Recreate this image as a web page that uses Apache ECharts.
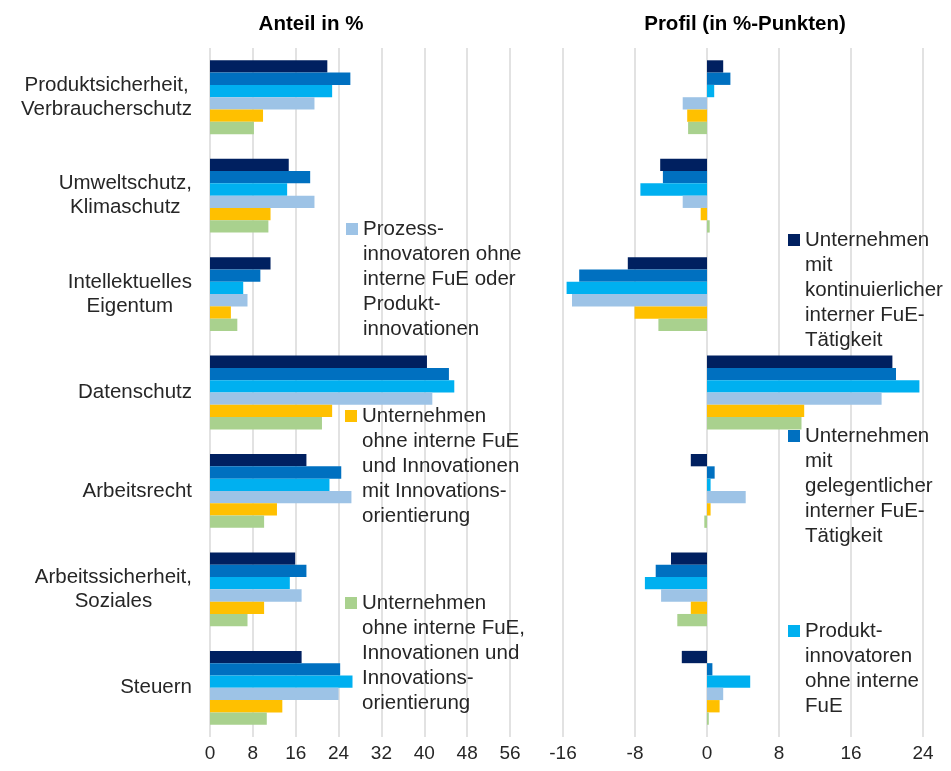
<!DOCTYPE html>
<html>
<head>
<meta charset="utf-8">
<script src="https://cdn.jsdelivr.net/npm/echarts@6/dist/echarts.min.js"></script>
<style>
  html, body { margin: 0; padding: 0; background: #fff; }
  #chart { width: 951px; height: 771px; }
</style>
</head>
<body>
<div id="chart"></div>
<script>
// Kategorien (von oben nach unten)
const categories = ['Produktsicherheit,\nVerbraucherschutz', 'Umweltschutz,\nKlimaschutz', 'Intellektuelles\nEigentum',
  'Datenschutz', 'Arbeitsrecht', 'Arbeitssicherheit,\nSoziales', 'Steuern'];

const seriesNames = [
  'Unternehmen\nmit\nkontinuierlicher\ninterner FuE-\nTätigkeit',
  'Unternehmen\nmit\ngelegentlicher\ninterner FuE-\nTätigkeit',
  'Produkt-\ninnovatoren\nohne interne\nFuE',
  'Prozess-\ninnovatoren ohne\ninterne FuE oder\nProdukt-\ninnovationen',
  'Unternehmen\nohne interne FuE\nund Innovationen\nmit Innovations-\norientierung',
  'Unternehmen\nohne interne FuE,\nInnovationen und\nInnovations-\norientierung'
];
const colors = ['#002060', '#0070C0', '#00B0F0', '#9DC3E6', '#FFC000', '#A9D18E'];

// Anteil in %
const anteilKontinuierlich = [21.9, 14.7, 11.3, 40.5, 18.0, 15.9, 17.1];
const anteilGelegentlich   = [26.2, 18.7, 9.4, 44.6, 24.5, 18.0, 24.3];
const anteilProdukt        = [22.8, 14.4, 6.2, 45.6, 22.3, 14.9, 26.6];
const anteilProzess        = [19.5, 19.5, 7.0, 41.5, 26.4, 17.1, 24.0];
const anteilOrientierung   = [9.9, 11.3, 3.9, 22.8, 12.5, 10.1, 13.5];
const anteilOhne           = [8.2, 10.9, 5.1, 20.9, 10.1, 7.0, 10.6];

// Profil (in %-Punkten)
const profilKontinuierlich = [1.8, -5.2, -8.8, 20.6, -1.8, -4.0, -2.8];
const profilGelegentlich   = [2.6, -4.9, -14.2, 21.0, 0.85, -5.7, 0.6];
const profilProdukt        = [0.8, -7.4, -15.6, 23.6, 0.4, -6.9, 4.8];
const profilProzess        = [-2.7, -2.7, -15.0, 19.4, 4.3, -5.1, 1.8];
const profilOrientierung   = [-2.2, -0.7, -8.05, 10.8, 0.4, -1.8, 1.4];
const profilOhne           = [-2.1, 0.3, -5.4, 10.5, -0.3, -3.3, 0.2];

const anteil = [anteilKontinuierlich, anteilGelegentlich, anteilProdukt, anteilProzess, anteilOrientierung, anteilOhne];
const profil = [profilKontinuierlich, profilGelegentlich, profilProdukt, profilProzess, profilOrientierung, profilOhne];

const font = 'Liberation Sans, Arial, sans-serif';
const textColor = '#262626';
const lh = 25;

// Legende: je Reihe ein eigener Block, Symbol auf Höhe der ersten Zeile
// (leere Zeilen davor, damit die erste Textzeile mittig zum Symbol steht)
const legendPos = [
  { left: 788, y: 240 },
  { left: 788, y: 436 },
  { left: 788, y: 631 },
  { left: 346, y: 229 },
  { left: 345, y: 416 },
  { left: 345, y: 603 }
];
const legends = seriesNames.map((name, i) => {
  const n = name.split('\n').length;
  return {
    data: [name],
    left: legendPos[i].left,
    top: legendPos[i].y - (2 * n - 1) * lh / 2,
    orient: 'vertical',
    padding: 0,
    selectedMode: false,
    itemWidth: 12,
    itemHeight: 12,
    icon: 'rect',
    formatter: s => '\n'.repeat(n - 1) + s,
    textStyle: {
      fontFamily: font,
      fontSize: 20.5,
      color: textColor,
      lineHeight: lh
    }
  };
});

const series = [];
anteil.forEach((d, i) => {
  series.push({
    name: seriesNames[i], type: 'bar', xAxisIndex: 0, yAxisIndex: 0,
    data: d, itemStyle: { color: colors[i] },
    barGap: '0%', barCategoryGap: '25%'
  });
});
profil.forEach((d, i) => {
  series.push({
    name: seriesNames[i], type: 'bar', xAxisIndex: 1, yAxisIndex: 1,
    data: d, itemStyle: { color: colors[i] },
    barGap: '0%', barCategoryGap: '25%'
  });
});

const chart = echarts.init(document.getElementById('chart'));
chart.setOption({
  animation: false,
  title: [
    { text: 'Anteil in %', left: 306, top: 9, textAlign: 'center',
      textStyle: { fontFamily: font, fontSize: 20.5, fontWeight: 'bold', color: '#000' } },
    { text: 'Profil (in %-Punkten)', left: 740, top: 9, textAlign: 'center',
      textStyle: { fontFamily: font, fontSize: 20.5, fontWeight: 'bold', color: '#000' } }
  ],
  legend: legends,
  grid: [
    { left: 210, width: 300, top: 48, height: 689 },
    { left: 563, width: 360, top: 48, height: 689 }
  ],
  xAxis: [
    { gridIndex: 0, type: 'value', min: 0, max: 56, interval: 8,
      axisLine: { show: false }, axisTick: { show: false },
      splitLine: { lineStyle: { color: '#D9D9D9', width: 1.5 } },
      axisLabel: { fontFamily: font, fontSize: 19, color: textColor, margin: 7 } },
    { gridIndex: 1, type: 'value', min: -16, max: 24, interval: 8,
      axisLine: { show: false }, axisTick: { show: false },
      splitLine: { lineStyle: { color: '#D9D9D9', width: 1.5 } },
      axisLabel: { fontFamily: font, fontSize: 19, color: textColor, margin: 7 } }
  ],
  yAxis: [
    { gridIndex: 0, type: 'category', data: categories, inverse: true,
      axisLine: { show: false }, axisTick: { show: false },
      axisLabel: {
        margin: 18, color: textColor, fontFamily: font, fontSize: 20.5, lineHeight: 24,
        formatter: v => v.split('\n').map(s => '{c|' + s + '}').join('\n'),
        rich: { c: { align: 'center', fontFamily: font, fontSize: 20.5, lineHeight: 24, color: textColor } }
      } },
    { gridIndex: 1, type: 'category', data: categories, inverse: true,
      axisLine: { show: false }, axisTick: { show: false }, axisLabel: { show: false } }
  ],
  series: series
});
</script>
</body>
</html>
